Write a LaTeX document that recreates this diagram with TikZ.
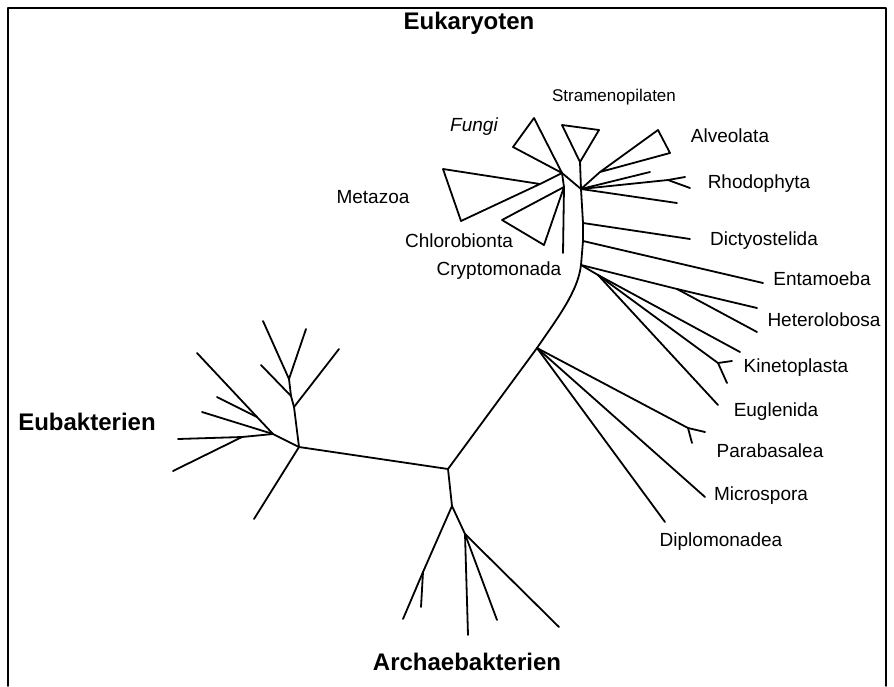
\documentclass[tikz,border=0pt]{standalone}
\usepackage{fontspec}
\setmainfont{Liberation Sans}
\begin{document}
\begin{tikzpicture}[x=1pt, y=-1pt, line width=1.8pt, line join=round, line cap=round,
    taxon/.style={font=\fontsize{19}{21}\selectfont, inner sep=0pt},
    kingdom/.style={font=\fontsize{24}{27}\selectfont\bfseries, inner sep=0pt}]
    \useasboundingbox (0,0) rectangle (894,686);
    % Frame
    \draw (8,686) -- (8,8) -- (886,8) -- (886,686);
    % Branch points
    \coordinate (root) at (448,469);
    \coordinate (eu0) at (299,447);
    \coordinate (ar0) at (452,506);
    \coordinate (k1) at (537,348);
    \coordinate (k2) at (598,275);
    \coordinate (st0) at (581,189);
    \coordinate (st1) at (583,223);
    \coordinate (st2) at (583,241);
    \coordinate (st3) at (581,265);
    \coordinate (f0) at (562,173);
    \coordinate (f1) at (564,187);
    % Eubakterien
    \draw (root) -- (eu0) -- (254,519) coordinate (eu0a);
    \draw (eu0) -- (294,407) coordinate (eu1) -- (291,396) coordinate (eu2)
        -- (289,379) coordinate (eu3) -- (263,321) coordinate (eu3a);
    \draw (eu3) -- (306,329) coordinate (eu3b);
    \draw (eu2) -- (261,365) coordinate (eu2a);
    \draw (eu1) -- (339,349) coordinate (eu1a);
    \draw (eu0) -- (273,434) coordinate (eu4) -- (257,417) coordinate (eu5)
        -- (197,353) coordinate (eu5a);
    \draw (eu5) -- (217,397) coordinate (eu5b);
    \draw (eu4) -- (202,412) coordinate (eu4a);
    \draw (eu4) -- (242,437) coordinate (eu6) -- (178,439) coordinate (eu6a);
    \draw (eu6) -- (173,471) coordinate (eu6b);
    % Archaebakterien
    \draw (root) -- (ar0) -- (423,572) coordinate (ar1) -- (403,619) coordinate (ar1a);
    \draw (ar1) -- (421,607) coordinate (ar1b);
    \draw (ar0) -- (465,534) coordinate (ar2) -- (468,635) coordinate (ar2a);
    \draw (ar2) -- (497,620) coordinate (ar2b);
    \draw (ar2) -- (559,627) coordinate (ar2c);
    % Eukaryoten: stem
    \draw (root) -- (k1) .. controls (556,320) and (578,292) .. (st3) -- (st2) -- (st1) -- (st0);
    % lower branches
    \draw (k1) -- (688,428) coordinate (par0) -- (705,432) coordinate (par0a);
    \draw (par0) -- (692,443) coordinate (par0b);
    \draw (k1) -- (705,497) coordinate (mic);
    \draw (k1) -- (665,522) coordinate (dip);
    \draw (st3) -- (k2) -- (740,352) coordinate (k2a);
    \draw (k2) -- (718,363) coordinate (kin0) -- (732,361) coordinate (kin0a);
    \draw (kin0) -- (727,383) coordinate (kin0b);
    \draw (k2) -- (718,405) coordinate (eug);
    \draw (st3) -- (677,289) coordinate (het0) -- (757,308) coordinate (het0a);
    \draw (het0) -- (757,332) coordinate (het0b);
    \draw (st2) -- (763,283) coordinate (ent);
    \draw (st1) -- (690,239) coordinate (dic);
    % crown
    \draw (st0) -- (650,172) coordinate (rho1);
    \draw (st0) -- (668,180) coordinate (rho0) -- (685,177) coordinate (rho0a);
    \draw (rho0) -- (690,188) coordinate (rho0b);
    \draw (st0) -- (677,203) coordinate (rho2);
    \draw (st0) -- (600,172) coordinate (alv0) -- (658,130) -- (670,153) -- (alv0);
    \draw (st0) -- (580,162) coordinate (str0) -- (562,125) -- (599,130) -- (str0);
    \draw (st0) -- (f0) -- (534,118) -- (513,147) -- (f0);
    \draw (f0) -- (540,184) coordinate (met0) -- (443,169) -- (461,221) -- (met0);
    \draw (f0) -- (f1) -- (502,220) -- (544,245) -- (f1);
    \draw (f1) -- (563,253) coordinate (cry);
    % Labels
    \node[kingdom] (eukaryoten) at (469,23) {Eukaryoten};
    \node[kingdom] (eubakterien) at (87,422) {Eubakterien};
    \node[kingdom] (archaebakterien) at (467,662) {Archaebakterien};
    \node[taxon, font=\fontsize{17}{19}\selectfont] (stramenopilaten) at (614,97) {Stramenopilaten};
    \node[taxon, font=\fontsize{19}{21}\selectfont\itshape] (fungi) at (474,127) {Fungi};
    \node[taxon] (alveolata) at (730,136) {Alveolata};
    \node[taxon] (metazoa) at (373,197) {Metazoa};
    \node[taxon] (rhodophyta) at (759,184) {Rhodophyta};
    \node[taxon] (chlorobionta) at (459,241) {Chlorobionta};
    \node[taxon] (cryptomonada) at (499,271) {Cryptomonada};
    \node[taxon] (dictyostelida) at (764,241) {Dictyostelida};
    \node[taxon] (entamoeba) at (822,279) {Entamoeba};
    \node[taxon] (heterolobosa) at (824,320) {Heterolobosa};
    \node[taxon] (kinetoplasta) at (796,368) {Kinetoplasta};
    \node[taxon] (euglenida) at (776,412) {Euglenida};
    \node[taxon] (parabasalea) at (770,451) {Parabasalea};
    \node[taxon] (microspora) at (761,496) {Microspora};
    \node[taxon] (diplomonadea) at (721,542) {Diplomonadea};
\end{tikzpicture}
\end{document}
